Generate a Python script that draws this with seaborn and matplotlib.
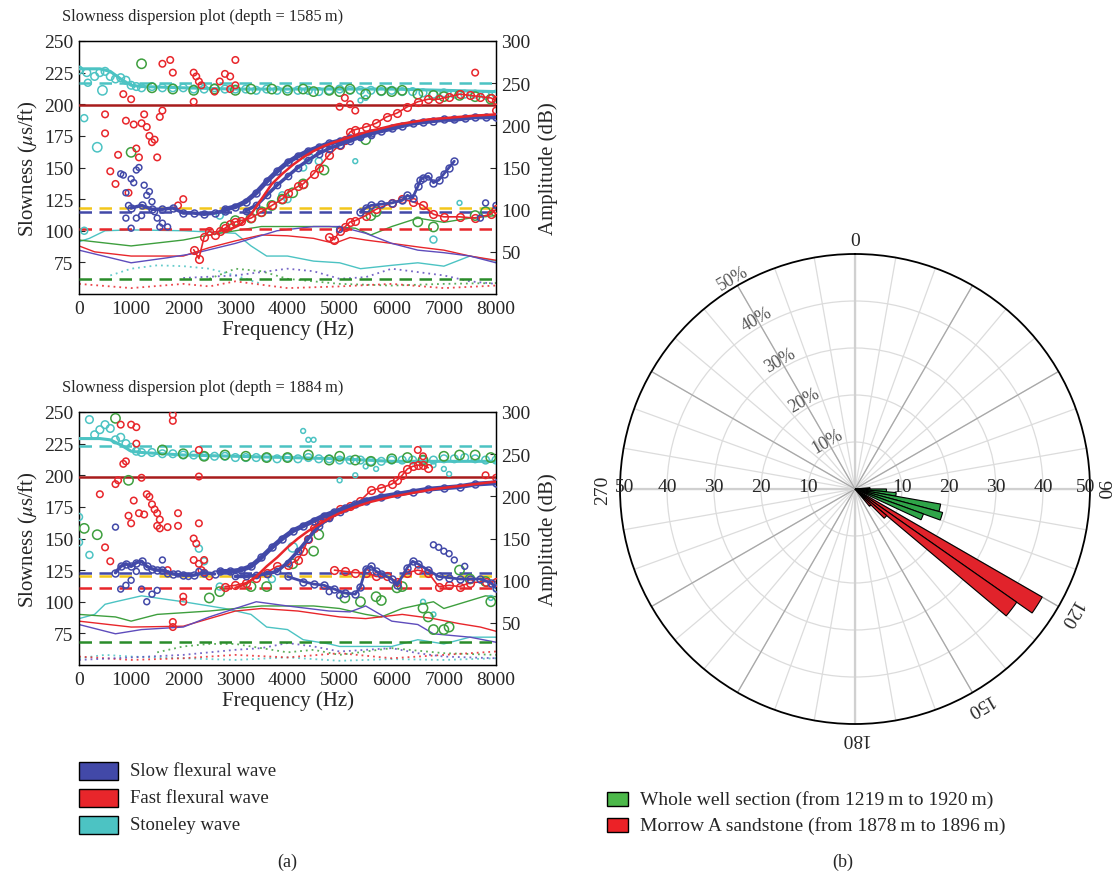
import numpy as np
import pandas as pd
import matplotlib
matplotlib.use("Agg")
import matplotlib.pyplot as plt
from matplotlib.patches import Rectangle
from matplotlib.transforms import offset_copy
import seaborn as sns

# ------------------------------------------------------------------ data
FREQ_TICKS = [0, 1000, 2000, 3000, 4000, 5000, 6000, 7000, 8000]
SLOW_TICKS = [75, 100, 125, 150, 175, 200, 225, 250]
AMP_TICKS = [50, 100, 150, 200, 250, 300]

# ---------- panel 1 : depth = 1585 m
t_hlines = {"cyan": 217, "darkred": 199.5, "yellow": 118, "blue": 115, "red": 101, "green": 61.5}

t_cyan_fit_x = [0, 400, 600, 800, 1000, 1200, 2000, 3000, 4000, 5000, 6000, 7000, 8000]
t_cyan_fit_y = [228, 228, 226, 220, 215, 214, 213, 212, 212, 212, 212, 211, 210]

t_red_fit_x = [2700, 2900, 3100, 3300, 3500, 3700, 3900, 4100, 4300, 4500, 4700, 4900, 5200, 5500,
               5800, 6100, 6400, 6700, 7000, 7300, 7600, 8000]
t_red_fit_y = [100, 101, 105, 113, 125, 137, 145, 152, 158, 163, 167, 170, 174, 178,
               181, 184, 186, 188, 189, 190, 191, 192]

t_cyan_pts_x = [0, 150, 300, 400, 500, 600, 700, 800, 900, 1000, 1100, 1200, 1400, 1600, 1800, 2000,
                2200, 2400, 2600, 2800, 3000, 3200, 3400, 3600, 3800, 4000, 4200, 4400, 4600, 4800,
                5000, 5200, 5400, 5600, 5800, 6000, 6200, 6400, 6600, 6800, 7000, 7200, 7400, 7600,
                7800, 8000]
t_cyan_pts_y = [227, 225, 222, 225, 226, 222, 220, 221, 219, 215, 214, 213, 214, 213, 213, 213,
                212, 212, 213, 212, 212, 212, 211, 212, 211, 212, 211, 211, 210, 211,
                212, 211, 211, 211, 210, 211, 210, 210, 209, 208, 209, 208, 208, 208,
                207, 208]
t_cyan_out_x = [100, 350, 170, 450, 100, 2700, 3900, 4000, 4300, 4400, 4600, 5300, 5400, 5500, 7300, 6800]
t_cyan_out_y = [189, 166, 217, 211, 100, 112, 128, 125, 150, 158, 155, 155, 203, 205, 122, 93]
t_cyan_out_s = [25, 45, 25, 45, 25, 25, 25, 25, 25, 45, 25, 12, 12, 12, 12, 25]

t_green_x = [1400, 1800, 2200, 2600, 3000, 3300, 3700, 4000, 4300, 4500, 4800, 5000, 5200, 5500, 5800,
             6000, 6200, 6500, 6800, 7000, 7300, 7600, 7900,
             1200, 1000, 5500, 4700, 4300, 4100, 3900, 3700, 3500, 3300, 3000, 2800,
             5700, 5600, 6500, 6800, 7800, 8000, 7600]
t_green_y = [213, 212, 211, 212, 211, 212, 212, 211, 212, 210, 211, 210, 212, 208, 211,
             210, 211, 208, 207, 206, 207, 206, 204,
             232, 162, 172, 148, 137, 130, 125, 120, 115, 110, 108, 103,
             115, 112, 107, 103, 115, 115, 112]

t_red_sc_x = [500, 500, 600, 700, 750, 850, 900, 950, 1000, 1050, 1100, 1150, 1200, 1250, 1300, 1350,
              1400, 1450, 1500, 1550, 1600, 1600, 1750, 1800, 1900, 2000, 2200, 2250, 2300, 2350,
              2200, 2700, 2800, 2900, 3000, 2600, 2900, 3000, 5000, 5100, 5200, 5300, 7600, 8000]
t_red_sc_y = [192, 177, 147, 137, 160, 208, 187, 130, 204, 184, 165, 158, 185, 192, 182, 175,
              170, 172, 158, 190, 195, 232, 235, 225, 120, 125, 225, 222, 218, 215,
              202, 218, 224, 222, 235, 210, 212, 215, 198, 205, 200, 195, 225, 195]
t_red_rise_x = [2200, 2300, 2400, 2500, 2600, 2700, 2800, 2900, 3000, 3100, 3300, 3500, 3700, 3900,
                4000, 4200, 4300, 4500, 4600, 4800, 5000, 5100, 5200, 5300, 5500, 5700, 5900,
                6100, 6300, 6500, 6700, 6900, 7100, 7300, 7500, 7700, 7900, 8000]
t_red_rise_y = [85, 78, 95, 100, 97, 100, 102, 105, 107, 108, 110, 115, 120, 125,
                130, 135, 137, 145, 150, 160, 168, 172, 178, 180, 182, 185, 190,
                193, 198, 202, 204, 204, 206, 208, 207, 206, 205, 203]
t_red_low_x = [4800, 4900, 5000, 5100, 5200, 5300, 5500, 5700, 6000, 6200, 6400, 6600, 6800, 7000,
               7300, 7600, 7900, 8000]
t_red_low_y = [95, 93, 100, 103, 107, 108, 112, 117, 122, 125, 123, 120, 113, 111,
               111, 110, 113, 117]

t_blue_sc_x = [800, 850, 900, 950, 1000, 1050, 1100, 1150, 1250, 1300, 1350, 1400, 1450, 1500, 1550,
               900, 1000, 1100, 1200, 1600, 1700, 5000, 7700, 7800, 8000]
t_blue_sc_y = [145, 144, 130, 120, 141, 138, 148, 150, 136, 128, 131, 123, 115, 110, 103,
               110, 102, 110, 112, 106, 103, 101, 110, 122, 120]
t_blue_flat_x = [1000, 1200, 1400, 1600, 1800, 2000, 2200, 2400, 2600, 2800]
t_blue_flat_y = [118, 120, 117, 117, 118, 114, 114, 113, 114, 116]
t_blue_up_x = [2800, 3000, 3200, 3400, 3600, 3800, 4000, 4200, 4400, 4600, 4800, 5000, 5200, 5400,
               5600, 5800, 6000, 6200, 6400, 6600, 6800, 7000, 7200, 7400, 7600, 7800, 8000]
t_blue_up_y = [117, 119, 123, 130, 139, 147, 154, 159, 163, 166, 169, 171, 173, 175,
               177, 179, 181, 183, 185, 186, 187, 188, 188, 189, 190, 190, 190]
t_blue_lo_x = [3200, 3400, 3600, 3800, 4000, 4200, 4400, 4600, 4800, 5000, 5200, 5400, 5600]
t_blue_lo_y = [116, 120, 128, 136, 143, 150, 156, 161, 165, 168, 171, 174, 176]
t_blue_bump_x = [5400, 5500, 5600, 5800, 6000, 6200, 6300, 6400, 6500, 6550, 6600, 6700, 6800, 6900,
                 7000, 7100, 7200]
t_blue_bump_y = [115, 118, 120, 121, 122, 124, 128, 126, 135, 140, 142, 143, 138, 140,
                 145, 150, 155]

# amplitude curves (dB, right axis)
t_amp_green_x = [0, 1000, 2000, 2500, 3000, 3500, 4800, 5300, 5600, 6000, 6500, 7000, 7500, 8000]
t_amp_green_y = [64, 57, 64, 70, 75, 80, 80, 78, 70, 80, 90, 85, 90, 93]
t_amp_red_x = [0, 300, 1000, 2000, 2500, 3000, 3500, 4000, 4500, 4900, 5200, 5500, 6000, 6600, 7000,
               7500, 8000]
t_amp_red_y = [57, 50, 45, 45, 55, 63, 70, 69, 66, 60, 67, 64, 60, 55, 52, 45, 40]
t_amp_blue_x = [0, 1000, 1700, 2200, 3000, 3800, 4500, 5000, 5500, 6000, 6500, 7000, 7500, 8000]
t_amp_blue_y = [52, 37, 43, 48, 60, 75, 80, 80, 72, 60, 52, 49, 45, 37]
t_amp_cyan_x = [0, 200, 500, 1000, 2000, 3000, 3300, 3600, 4000, 4500, 5000, 5400, 6000, 6500, 7000,
                7500, 8000]
t_amp_cyan_y = [62, 66, 75, 76, 75, 72, 57, 45, 45, 39, 37, 30, 34, 37, 33, 45, 39]
t_dot_cyan_x = [600, 1000, 1500, 2000, 2500, 3000, 3500]
t_dot_cyan_y = [22, 30, 34, 33, 30, 22, 12]
t_dot_blue_x = [2000, 3000, 4000, 4500, 5000, 5500, 6000, 7000, 7500, 8000]
t_dot_blue_y = [19, 22, 30, 27, 18, 20, 30, 22, 15, 12]
t_dot_green_x = [2500, 3000, 3500, 4000, 4500, 5000, 6000, 7000, 8000]
t_dot_green_y = [18, 30, 27, 18, 15, 12, 10, 12, 13]
t_dot_red_x = [0, 1000, 2000, 2500, 3000, 4000, 5000, 6000, 7000, 8000]
t_dot_red_y = [12, 7, 12, 9, 15, 7, 9, 12, 7, 10]

# ---------- panel 2 : depth = 1884 m
b_hlines = {"cyan": 223, "darkred": 199, "yellow": 120, "blue": 123, "red": 110.5, "green": 68}

b_cyan_fit_x = [0, 400, 600, 800, 1000, 1200, 2000, 3000, 4000, 5000, 5500, 6000, 7000, 8000]
b_cyan_fit_y = [229, 229, 228, 224, 219, 218, 216, 215, 214, 213, 212, 211, 211, 211]

b_red_fit_x = [3000, 3200, 3400, 3600, 3800, 4000, 4200, 4400, 4600, 4800, 5000, 5300, 5600, 6000,
               6400, 6800, 7200, 7600, 8000]
b_red_fit_y = [111, 114, 120, 128, 135, 143, 150, 156, 161, 166, 170, 175, 179, 183,
               186, 189, 191, 193, 195]

b_cyan_pts_x = [200, 300, 400, 500, 600, 700, 800, 900, 1000, 1100, 1200, 1400, 1600, 1800, 2000,
                2200, 2400, 2600, 2800, 3000, 3200, 3400, 3600, 3800, 4000, 4200, 4400, 4600, 4800,
                5000, 5200, 5400, 5600, 5800, 6000, 6200, 6400, 6600, 6800, 7000, 7200, 7400, 7600,
                7800, 8000]
b_cyan_pts_y = [244, 232, 236, 240, 237, 228, 230, 225, 222, 219, 218, 218, 217, 217, 216,
                216, 215, 215, 215, 214, 214, 214, 214, 213, 214, 213, 214, 213, 213,
                212, 212, 212, 211, 211, 212, 212, 212, 212, 212, 213, 213, 214, 213,
                212, 212]
b_cyan_out_x = [0, 0, 200, 4300, 4400, 4500, 5000, 5300, 5500, 5700, 6800, 7000, 7100, 2300, 2400,
                4100, 2700, 3700, 6600, 6800, 7900, 8000]
b_cyan_out_y = [167, 147, 137, 235, 228, 228, 196, 200, 207, 205, 208, 205, 201, 142, 132,
                143, 112, 118, 100, 90, 103, 110]
b_cyan_out_s = [25, 25, 25, 12, 12, 12, 12, 12, 12, 12, 12, 12, 12, 25, 25,
                45, 25, 25, 12, 12, 12, 12]

b_green_x = [1600, 2000, 2400, 2800, 3200, 3600, 4000, 4400, 4800, 5000, 5300, 5600, 6000, 6300, 6600,
             7000, 7300, 7600, 7900,
             100, 350, 700, 950, 4100, 4500, 4600, 3600, 3300, 2700, 2500, 5100, 5400, 5700, 5800,
             6100, 6200, 6600, 6700, 6800, 7000, 7100, 7900, 7300, 7500, 7800]
b_green_y = [220, 217, 215, 216, 215, 214, 214, 216, 212, 215, 212, 211, 213, 214, 212,
             215, 216, 216, 214,
             158, 153, 245, 196, 130, 140, 153, 112, 112, 108, 103, 103, 100, 104, 101,
             111, 112, 95, 88, 78, 78, 80, 100, 125, 118, 116]

b_red_sc_x = [400, 500, 600, 700, 750, 800, 850, 900, 950, 1000, 1000, 1050, 1100, 1100, 1150, 1200,
              1250, 1300, 1350, 1400, 1450, 1500, 1550, 1500, 1550, 1700, 1900, 1900, 1800, 1800,
              1700, 1800, 1800, 2000, 2000, 2300, 2200, 2250, 2200, 2300, 2350, 2400, 2400, 2500,
              2300, 2300, 6500, 6600, 7800, 8000]
b_red_sc_y = [185, 143, 132, 193, 196, 240, 209, 211, 168, 162, 240, 180, 238, 225, 170, 198,
              169, 185, 183, 177, 173, 170, 165, 160, 158, 159, 160, 170, 248, 243,
              125, 84, 80, 100, 104, 162, 150, 146, 133, 130, 125, 123, 133, 120,
              220, 199, 220, 215, 200, 198]
b_red_rise_x = [2800, 3000, 3200, 3400, 3600, 3800, 4000, 4200, 4300, 4400, 4500, 4600, 4700, 4800,
                5000, 5200, 5400, 5600, 5800, 6000, 6100, 6200, 6300, 6400, 6500, 6600, 6700]
b_red_rise_y = [112, 113, 115, 119, 123, 128, 129, 133, 140, 150, 158, 163, 166, 168,
                173, 176, 180, 188, 190, 193, 196, 200, 205, 207, 208, 208, 206]
b_red_low_x = [4900, 5100, 5300, 5500, 5700, 5900, 6100, 6300, 6500, 6700, 6900, 7100, 7300, 7500,
               7800, 8000]
b_red_low_y = [125, 124, 123, 123, 120, 120, 116, 123, 125, 123, 112, 113, 112, 115, 116, 116]

b_blue_sc_x = [700, 800, 900, 1000, 1100, 1200, 1300, 1400, 1500, 1600, 1700, 1900, 2100, 2300,
               6800, 6900, 7000, 7100, 7200, 7400, 5000, 4800]
b_blue_sc_y = [159, 110, 113, 117, 124, 110, 100, 106, 109, 133, 122, 122, 120, 124,
               145, 143, 140, 138, 133, 128, 105, 108]
b_blue_flat_x = [700, 800, 900, 1000, 1100, 1200, 1300, 1400, 1500, 1600, 1800, 2000, 2200, 2400, 2600]
b_blue_flat_y = [123, 128, 130, 128, 131, 132, 128, 126, 125, 125, 122, 121, 121, 123, 122]
b_blue_up_x = [2700, 2900, 3100, 3300, 3500, 3700, 3900, 4100, 4300, 4500, 4700, 4900, 5100, 5300,
               5500, 5800, 6100, 6400, 6700, 7000, 7300, 7600, 8000]
b_blue_up_y = [124, 124, 125, 128, 135, 143, 150, 156, 160, 164, 168, 171, 174, 177,
               180, 183, 185, 187, 189, 190, 191, 193, 194]
b_blue_lo_x = [3000, 3200, 3400, 3600, 3800, 4000, 4200, 4400, 4600, 4800, 5000]
b_blue_lo_y = [120, 120, 121, 122, 124, 131, 140, 150, 160, 166, 171]
b_blue_bump_x = [4000, 4300, 4500, 4700, 4900, 5100, 5300, 5400, 5500, 5600, 5700, 5800, 6000, 6100,
                 6300, 6400, 6500, 6700, 6900, 7100, 7300, 7500, 7700, 7900, 8000]
b_blue_bump_y = [120, 116, 114, 113, 110, 107, 106, 112, 126, 128, 124, 122, 118, 113,
                 127, 132, 130, 125, 120, 119, 118, 118, 118, 115, 111]

b_amp_cyan_x = [0, 300, 500, 700, 1200, 2000, 2800, 3300, 3600, 4000, 4300, 4800, 5000, 6000, 6500,
                7000, 7500, 8000]
b_amp_cyan_y = [55, 60, 72, 75, 82, 75, 67, 60, 45, 42, 30, 25, 22, 22, 30, 25, 33, 33]
b_amp_green_x = [0, 700, 1000, 1500, 2500, 3500, 4500, 5000, 5500, 5800, 6200, 6800, 7000, 7800, 8000]
b_amp_green_y = [60, 57, 52, 60, 64, 70, 70, 67, 60, 57, 67, 75, 67, 82, 81]
b_amp_red_x = [0, 1000, 2000, 2500, 3000, 3500, 4200, 5000, 5500, 6200, 6800, 7300, 7700, 8000]
b_amp_red_y = [52, 45, 46, 55, 64, 67, 64, 57, 55, 60, 55, 49, 45, 40]
b_amp_blue_x = [0, 700, 1200, 2000, 2500, 3000, 3400, 4000, 4800, 5200, 5500, 6000, 6500, 6800,
                7500, 8000]
b_amp_blue_y = [48, 37, 42, 45, 57, 67, 75, 70, 64, 63, 70, 52, 48, 37, 33, 27]
b_dot_cyan_x = [0, 500, 1000, 2000, 3000, 4000, 5000, 6000, 7000, 8000]
b_dot_cyan_y = [8, 12, 10, 8, 6, 9, 5, 7, 6, 8]
b_dot_green_x = [1500, 2000, 2500, 3000, 3500, 4000, 4500, 5000, 6000, 7000, 8000]
b_dot_green_y = [15, 22, 25, 25, 20, 15, 18, 12, 20, 14, 12]
b_dot_blue_x = [0, 1000, 2000, 3000, 3500, 4000, 4500, 5000, 6000, 6500, 7000, 8000]
b_dot_blue_y = [6, 9, 12, 18, 20, 26, 22, 16, 20, 14, 10, 8]
b_dot_red_x = [0, 1000, 2000, 3000, 4000, 5000, 6000, 7000, 8000]
b_dot_red_y = [10, 6, 8, 12, 9, 14, 8, 12, 16]

# ---------- rose diagram (azimuth bins, % of fractures)
green_bin_start = [85, 90, 95, 100, 105, 110]
green_bin_pct = [3.2, 6.7, 8.8, 18.5, 19.3, 15.5]
red_bin_start = [120, 125, 130, 135]
red_bin_pct = [46.0, 42.0, 8.8, 4.8]
rose_ring_values = [10, 20, 30, 40, 50]
rose_angle_labels = [0, 90, 120, 150, 180, 270]

legend_a = ["Slow flexural wave", "Fast flexural wave", "Stoneley wave"]
legend_b = ["Whole well section (from 1219\u2009m to 1920\u2009m)",
            "Morrow A sandstone (from 1878\u2009m to 1896\u2009m)"]

# ------------------------------------------------------------------ style
sns.set_style("white")
plt.rcParams["font.family"] = ["Liberation Serif", "DejaVu Serif"]
plt.rcParams["mathtext.fontset"] = "stix"

BLUE = "#4249a8"
PURPLE = "#5e4cbc"
RED = "#e8262b"
CYAN = "#4cc3c3"
GREEN = "#3e9f3e"
YELLOW = "#f3c61a"
DARKRED = "#a81c1c"
HL_COLORS = {"cyan": CYAN, "darkred": DARKRED, "yellow": YELLOW, "blue": BLUE, "red": RED,
             "green": "#2a8c2a"}

W, H = 1114, 879
fig = plt.figure(figsize=(W / 100, H / 100), dpi=100)


def fx(px):
    return px / W


def fy(py):
    return 1 - py / H


def hollow(ax, x, y, color, s, lw=1.1):
    sns.scatterplot(x=x, y=y, ax=ax, s=s, facecolors="none", edgecolor=color,
                    linewidth=lw, legend=False, zorder=4)


def chain(ax, x, y, color, lw=3.0, ms=4.5):
    sns.lineplot(x=x, y=y, ax=ax, sort=False, estimator=None, color=color, lw=lw,
                 marker="o", markersize=ms, markerfacecolor="none", markeredgecolor=color,
                 markeredgewidth=1.1, zorder=4)


def panel(top_px, title, d):
    ax = fig.add_axes([fx(79), fy(top_px + 253), fx(417), 253 / H])
    ax2 = ax.twinx()
    ax.set_zorder(2)
    ax.patch.set_visible(False)

    # amplitude curves
    for key, col in (("cyan", CYAN), ("green", GREEN), ("red", RED), ("blue", PURPLE)):
        sns.lineplot(x=d["amp_" + key + "_x"], y=d["amp_" + key + "_y"], ax=ax2, sort=False,
                     estimator=None, color=col, lw=1.0)
        sns.lineplot(x=d["dot_" + key + "_x"], y=d["dot_" + key + "_y"], ax=ax2, sort=False,
                     estimator=None, color=col, lw=1.3, linestyle=(0, (1, 2.2)), alpha=0.85)

    # horizontal reference lines
    for key, val in d["hlines"].items():
        ls = "-" if key == "darkred" else (0, (5, 3))
        ax.axhline(val, color=HL_COLORS[key], lw=1.8, ls=ls, zorder=3)

    # fitted curves
    sns.lineplot(x=d["cyan_fit_x"], y=d["cyan_fit_y"], ax=ax, sort=False, estimator=None,
                 color=CYAN, lw=2.2, zorder=3)

    # scatter picks
    hollow(ax, d["cyan_pts_x"], d["cyan_pts_y"], CYAN, 30)
    for xx, yy, ss in zip(d["cyan_out_x"], d["cyan_out_y"], d["cyan_out_s"]):
        hollow(ax, [xx], [yy], CYAN, ss)
    hollow(ax, d["green_x"], d["green_y"], GREEN, 45)
    hollow(ax, d["red_sc_x"], d["red_sc_y"], RED, 22)
    chain(ax, d["red_rise_x"], d["red_rise_y"], RED, lw=1.2, ms=5.5)
    chain(ax, d["red_low_x"], d["red_low_y"], RED, lw=1.2, ms=5.5)
    hollow(ax, d["blue_sc_x"], d["blue_sc_y"], BLUE, 18)
    chain(ax, d["blue_flat_x"], d["blue_flat_y"], BLUE, lw=2.5, ms=5)
    chain(ax, d["blue_lo_x"], d["blue_lo_y"], BLUE, lw=2.5, ms=4.5)
    chain(ax, d["blue_up_x"], d["blue_up_y"], BLUE, lw=3.5, ms=5)
    chain(ax, d["blue_bump_x"], d["blue_bump_y"], BLUE, lw=2.0, ms=5)
    sns.lineplot(x=d["red_fit_x"], y=d["red_fit_y"], ax=ax, sort=False, estimator=None,
                 color=RED, lw=1.8, zorder=5)

    ax.set_xlim(0, 8000)
    ax.set_ylim(50, 250)
    ax2.set_ylim(0, 300)
    ax.set_xticks(FREQ_TICKS)
    ax.set_yticks(SLOW_TICKS)
    ax2.set_yticks(AMP_TICKS)
    ax.tick_params(direction="in", length=4, labelsize=14, pad=4, width=0.8)
    ax2.tick_params(direction="in", length=4, labelsize=14, pad=4, width=0.8)
    ax.set_xlabel("Frequency (Hz)", fontsize=15, labelpad=2)
    ax.set_ylabel(r"Slowness ($\mu$s/ft)", fontsize=15, labelpad=3)
    ax2.set_ylabel("Amplitude (dB)", fontsize=15, labelpad=5)
    for a in (ax, ax2):
        for sp in a.spines.values():
            sp.set_color("black")
            sp.set_linewidth(0.9)
    fig.text(fx(62), fy(top_px - 25), title, fontsize=11.8, ha="left", va="center")


def grab(prefix):
    g = globals()
    out = {}
    for k, v in g.items():
        if k.startswith(prefix):
            out[k[len(prefix):]] = v
    return out


panel(42, "Slowness dispersion plot (depth = 1585\u2009m)", grab("t_"))
panel(413, "Slowness dispersion plot (depth = 1884\u2009m)", grab("b_"))

# ------------------------------------------------------------------ rose diagram
pax = fig.add_axes([fx(620), fy(725), fx(470), 470 / H], projection="polar")
pax.set_theta_zero_location("N")
pax.set_theta_direction(-1)
pax.set_ylim(0, 50)
pax.set_xticks(np.deg2rad(np.arange(0, 360, 10)))
pax.set_xticklabels([])
pax.set_yticks([10, 20, 30, 40])
pax.set_yticklabels([])
pax.grid(True, color="#dcdcdc", lw=0.9)
pax.spines["polar"].set_color("black")
pax.spines["polar"].set_linewidth(1.3)
for a in range(0, 360, 30):
    col = "#d0d0d0" if a % 90 == 0 else "#a8a8a8"
    lw = 1.6 if a % 90 == 0 else 0.9
    pax.plot([np.deg2rad(a)] * 2, [0, 50], color=col, lw=lw, zorder=1)

gdf = pd.DataFrame({"theta": np.deg2rad(np.array(green_bin_start) + 2.5), "pct": green_bin_pct})
rdf = pd.DataFrame({"theta": np.deg2rad(np.array(red_bin_start) + 2.5), "pct": red_bin_pct})
pax.bar(rdf["theta"], rdf["pct"], width=np.deg2rad(5), color="#e1232b", edgecolor="black",
        lw=0.8, zorder=3)
pax.bar(gdf["theta"], gdf["pct"], width=np.deg2rad(5), color="#2fa448", edgecolor="black",
        lw=0.8, zorder=4)

up3 = offset_copy(pax.transData, fig=fig, x=0, y=3, units="dots")
for r in rose_ring_values:
    for th in (90, 270):
        rpos = 49.0 if r == 50 else r
        pax.text(np.deg2rad(th), rpos, str(r), ha="center", va="center", fontsize=14,
                 zorder=6, transform=up3)
for r in rose_ring_values:
    pax.text(np.deg2rad(330), r, f"{r}%", ha="center", va="bottom", fontsize=13,
             color="#555555", rotation=30, rotation_mode="anchor", zorder=6)
for a in rose_angle_labels:
    if a == 90:
        rr = 52.6
    elif a == 270:
        rr = 53.6
    else:
        rr = 52.8
    pax.text(np.deg2rad(a), rr, str(a), ha="center", va="center", fontsize=14,
             rotation=-a, zorder=6, clip_on=False)

# ------------------------------------------------------------------ legends
cols_a = [BLUE, RED, CYAN]
for i, (lab, c) in enumerate(zip(legend_a, cols_a)):
    yc = 772 + 27 * i
    fig.patches.append(Rectangle((fx(79), fy(yc + 9)), fx(39), 18 / H, facecolor=c,
                                 edgecolor="black", lw=1.0, transform=fig.transFigure))
    fig.text(fx(130), fy(yc), lab, fontsize=13.5, va="center", ha="left")

cols_b = ["#4cb84a", "#ec2227"]
for i, (lab, c) in enumerate(zip(legend_b, cols_b)):
    yc = 800 + 26 * i
    fig.patches.append(Rectangle((fx(607), fy(yc + 7)), fx(21), 14 / H, facecolor=c,
                                 edgecolor="black", lw=1.0, transform=fig.transFigure))
    fig.text(fx(640), fy(yc), lab, fontsize=14, va="center", ha="left")

fig.text(fx(287), fy(862), "(a)", fontsize=13, ha="center", va="center")
fig.text(fx(843), fy(862), "(b)", fontsize=13, ha="center", va="center")

fig.savefig("out.png", dpi=100)
